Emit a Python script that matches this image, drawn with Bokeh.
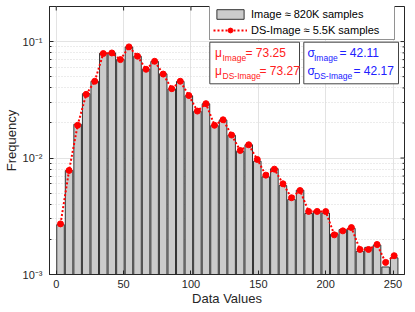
import math
from bokeh.plotting import figure
from bokeh.models import (Range1d, FixedTicker, Legend, LegendItem, BoxAnnotation, Label)
from bokeh.embed import file_html
from bokeh.resources import INLINE

# ---------------- data ----------------
bin_centers = [3.18, 9.53, 15.88, 22.23, 28.58, 34.93, 41.28, 47.63, 53.98, 60.33,
               66.68, 73.03, 79.38, 85.73, 92.08, 98.43, 104.78, 111.13, 117.48, 123.83,
               130.18, 136.53, 142.88, 149.23, 155.58, 161.93, 168.28, 174.63, 180.98, 187.33,
               193.68, 200.03, 206.38, 212.73, 219.08, 225.43, 231.78, 238.13, 244.48, 250.83]
bin_width = 6.35

image_freq = [0.00268, 0.00780, 0.0195, 0.0357, 0.0456, 0.0795, 0.0798, 0.0702, 0.0898, 0.0748,
              0.0580, 0.0675, 0.0528, 0.0392, 0.0455, 0.0342, 0.0252, 0.0292, 0.0190, 0.0212,
              0.0157, 0.0114, 0.0130, 0.0094, 0.0069, 0.0081, 0.0058, 0.0044, 0.0053, 0.00334,
              0.00348, 0.00337, 0.00222, 0.00243, 0.00249, 0.00158, 0.00171, 0.00179, 0.00116, 0.00139]

ds_freq = [0.00272, 0.00782, 0.0191, 0.0352, 0.0456, 0.0789, 0.0798, 0.0700, 0.0900, 0.0748,
           0.0578, 0.0677, 0.0526, 0.0394, 0.0456, 0.0344, 0.0253, 0.0293, 0.0191, 0.0213,
           0.01574, 0.01161, 0.0130, 0.00972, 0.00713, 0.00803, 0.00601, 0.00456, 0.00526, 0.00348,
           0.00348, 0.00347, 0.00219, 0.00237, 0.00253, 0.00164, 0.00164, 0.00181, 0.00127, 0.00145]

xtick_values = [0, 50, 100, 150, 200, 250]
ytick_values = [0.001, 0.01, 0.1]
ytick_labels = ["10\u207b\u00b3", "10\u207b\u00b2", "10\u207b\u00b9"]
ytick_minor = [0.002, 0.003, 0.004, 0.005, 0.006, 0.007, 0.008, 0.009,
               0.02, 0.03, 0.04, 0.05, 0.06, 0.07, 0.08, 0.09, 0.2]

x_label = "Data Values"
y_label = "Frequency"
legend_labels = ["Image \u2248 820K samples", "DS-Image \u2248 5.5K samples"]
stat_names = ["Image", "DS-Image"]
mean_values = [73.25, 73.27]
std_values = [42.11, 42.17]

FONT = "Liberation Sans"
AX = "#262626"
X0, X1 = -5, 258.5
Y0, Y1 = 0.001, 0.2

# ---------------- layout constants ----------------
W, H = 415, 312
B_LEFT, B_RIGHT, B_TOP, B_BOTTOM = 49, 11, 6, 38
FRAME_W = W - B_LEFT - B_RIGHT
FRAME_H = H - B_TOP - B_BOTTOM
PAGE = 0
FRAME_LEFT = PAGE + B_LEFT
FRAME_TOP = PAGE + B_TOP
PX_PER_X = FRAME_W / (X1 - X0)
PX_PER_DEC = FRAME_H / (math.log10(Y1) - math.log10(Y0))

def rx(px):
    """page pixel x -> data x"""
    return X0 + (px - FRAME_LEFT) / PX_PER_X

def ry(py):
    """page pixel y -> data y (log axis)"""
    return 10 ** (math.log10(Y1) - (py - FRAME_TOP) / PX_PER_DEC)

# ---------------- figure ----------------
p = figure(width=W, height=H, output_backend="svg", toolbar_location=None,
           x_range=Range1d(X0, X1), y_range=Range1d(Y0, Y1), y_axis_type="log",
           min_border_left=B_LEFT, min_border_right=B_RIGHT,
           min_border_top=B_TOP, min_border_bottom=B_BOTTOM,
           background_fill_color="white", border_fill_color="white")
p.outline_line_color = AX
p.outline_line_width = 1

xt = FixedTicker(ticks=xtick_values)
yt = FixedTicker(ticks=ytick_values, minor_ticks=ytick_minor)

def style_axis(ax):
    ax.axis_line_color = AX
    ax.major_tick_line_color = AX
    ax.minor_tick_line_color = AX
    ax.major_tick_in = 4
    ax.major_tick_out = 0
    ax.minor_tick_in = 2
    ax.minor_tick_out = 0
    ax.major_label_text_font = FONT
    ax.major_label_text_font_size = "11px"
    ax.major_label_text_color = AX
    ax.axis_label_text_font = FONT
    ax.axis_label_text_font_size = "13px"
    ax.axis_label_text_font_style = "normal"
    ax.axis_label_text_color = AX

xa = p.xaxis[0]
xa.ticker = xt
style_axis(xa)
xa.axis_label = x_label
xa.major_label_standoff = 5
xa.axis_label_standoff = 0

ya = p.yaxis[0]
ya.ticker = yt
style_axis(ya)
ya.axis_label = y_label
ya.major_label_overrides = dict(zip(ytick_values, ytick_labels))
ya.major_label_standoff = 7
ya.axis_label_standoff = 1

# grids
p.xgrid.ticker = xt
p.ygrid.ticker = yt
p.xgrid.grid_line_color = "#e3e3e3"
p.ygrid.grid_line_color = "#e3e3e3"
p.ygrid.minor_grid_line_color = "#d8d8d8"
p.ygrid.minor_grid_line_dash = "1 2"

# ---------------- glyphs ----------------
bars = p.vbar(x=bin_centers, top=image_freq, bottom=Y0, width=bin_width * 0.88,
              fill_color="#cbcbcb", line_color="#333333", line_width=1)
ln = p.line(bin_centers, ds_freq, line_color="#ff0000", line_width=2, line_dash="2 2")
dots = p.scatter(bin_centers, ds_freq, size=6, fill_color="#ff0000", line_color="#ff0000")

# mirrored tick marks on the right and top edges (clipped half-dashes)
p.scatter([X1] * len(ytick_values), ytick_values, marker="dash", size=8,
          line_color=AX, line_width=1)
p.scatter([X1] * len(ytick_minor), ytick_minor, marker="dash", size=4,
          line_color=AX, line_width=1)
p.scatter(xtick_values, [Y1] * len(xtick_values), marker="dash", size=8, angle=math.pi / 2,
          line_color=AX, line_width=1)

# ---------------- legend ----------------
LEG_H = 34
legend = Legend(items=[LegendItem(label=legend_labels[0], renderers=[bars]),
                       LegendItem(label=legend_labels[1], renderers=[ln, dots])],
                location=(209 - FRAME_LEFT, FRAME_H - LEG_H), orientation="vertical",
                label_text_font=FONT, label_text_font_size="11px", label_text_color="black",
                glyph_width=34, glyph_height=12, label_height=12, label_width=140,
                label_standoff=4, padding=3, spacing=4, margin=0,
                border_line_color=AX, border_line_width=1,
                background_fill_color="white", background_fill_alpha=1.0)
p.add_layout(legend)

# ---------------- statistics boxes ----------------
BOX_TOP, BOX_BOTTOM = 41.7, 83.3
for left, right in [(209.3, 299.0), (303.3, 398.0)]:
    p.add_layout(BoxAnnotation(left=rx(left), right=rx(right), top=ry(BOX_TOP),
                               bottom=ry(BOX_BOTTOM), fill_color="white", fill_alpha=1.0,
                               line_color="#444444", line_width=1, line_alpha=1.0))

def stat_line(sym, sub, val_text, color, x0, xsub, xval, yc):
    p.add_layout(Label(x=rx(x0), y=ry(yc), text=sym, text_font=FONT, text_font_size="12px",
                       text_color=color, text_baseline="middle", text_align="left"))
    p.add_layout(Label(x=rx(xsub), y=ry(yc + 5), text=sub, text_font=FONT, text_font_size="8.5px",
                       text_color=color, text_baseline="middle", text_align="left"))
    p.add_layout(Label(x=rx(xval), y=ry(yc + 0.5), text=val_text, text_font=FONT,
                       text_font_size="12px", text_color=color, text_baseline="middle",
                       text_align="left"))

RED = "#ff2020"
BLUE = "#2020ff"
L1, L2 = 52, 70
stat_line("\u03bc", stat_names[0], "= %.2f" % mean_values[0], RED, 214.5, 222.0, 245.0, L1)
stat_line("\u03bc", stat_names[1], "= %.2f" % mean_values[1], RED, 214.5, 222.0, 259.0, L2)
stat_line("\u03c3", stat_names[0], "= %.2f" % std_values[0], BLUE, 307.0, 313.5, 339.0, L1)
stat_line("\u03c3", stat_names[1], "= %.2f" % std_values[1], BLUE, 307.0, 313.5, 353.0, L2)

open("out.html", "w").write(file_html(p, INLINE))
